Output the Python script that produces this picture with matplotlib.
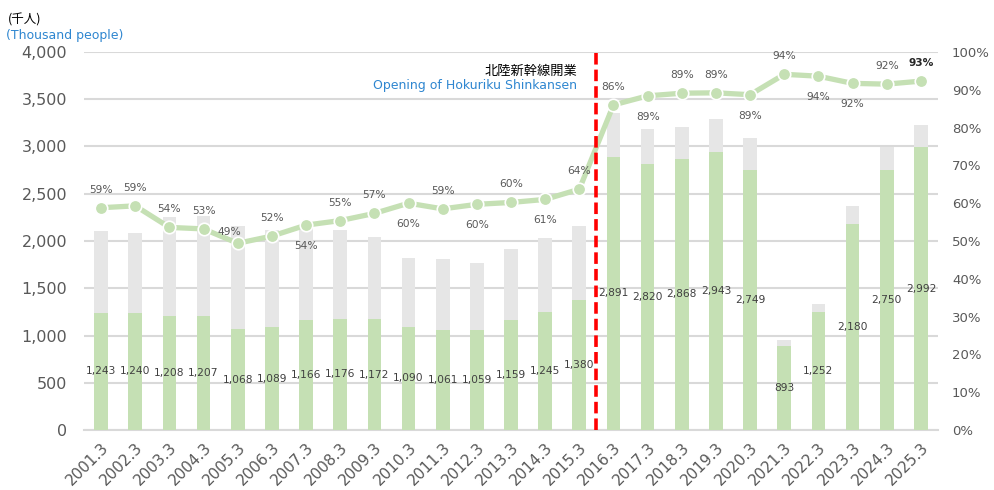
import matplotlib
matplotlib.use("Agg")
import matplotlib.pyplot as plt
from matplotlib.ticker import FuncFormatter, MultipleLocator

plt.rcParams['font.family'] = ['DejaVu Sans', 'Noto Sans CJK JP']

years = ["2001.3", "2002.3", "2003.3", "2004.3", "2005.3", "2006.3", "2007.3", "2008.3",
         "2009.3", "2010.3", "2011.3", "2012.3", "2013.3", "2014.3", "2015.3", "2016.3",
         "2017.3", "2018.3", "2019.3", "2020.3", "2021.3", "2022.3", "2023.3", "2024.3", "2025.3"]
# green bars (thousand people)
green = [1243, 1240, 1208, 1207, 1068, 1089, 1166, 1176, 1172, 1090, 1061, 1059, 1159,
         1245, 1380, 2891, 2820, 2868, 2943, 2749, 893, 1252, 2180, 2750, 2992]
# gray bars = total
total = [2105, 2085, 2250, 2265, 2160, 2120, 2150, 2120, 2040, 1820, 1810, 1770, 1920,
         2035, 2160, 3350, 3180, 3210, 3290, 3085, 950, 1335, 2375, 2995, 3230]
# share line (right axis)
share = [0.588, 0.593, 0.536, 0.532, 0.494, 0.513, 0.542, 0.554, 0.573, 0.600, 0.585,
         0.597, 0.602, 0.610, 0.637, 0.860, 0.884, 0.891, 0.892, 0.887, 0.941, 0.936,
         0.917, 0.915, 0.923]
share_labels = ["59%", "59%", "54%", "53%", "49%", "52%", "54%", "55%", "57%", "60%",
                "59%", "60%", "60%", "61%", "64%", "86%", "89%", "89%", "89%", "89%",
                "94%", "94%", "92%", "92%", "93%"]
# label placement: 1 above, -1 below
label_side = [1, 1, 1, 1, 1, 1, -1, 1, 1, -1, 1, -1, 1, -1, 1, 1, -1, 1, 1, -1,
              1, -1, -1, 1, 1]

GREEN = "#c5e0b4"
GRAY = "#e6e6e6"
GRID = "#d9d9d9"
TXT = "#595959"
BLUE = "#2e86d0"

fig = plt.figure(figsize=(9.94, 4.9), dpi=100)
ax = fig.add_axes([84 / 994, 1 - 430 / 490, (938 - 84) / 994, (430 - 52) / 490])
x = list(range(len(years)))

ax.bar(x, total, width=0.4, color=GRAY, zorder=2)
ax.bar(x, green, width=0.4, color=GREEN, zorder=3)
for i, v in enumerate(green):
    ax.text(i, v / 2, f"{v:,}", ha="center", va="center", fontsize=7.7,
            color="#404040", zorder=4)

ax.set_xlim(-0.5, len(years) - 0.5)
ax.set_ylim(0, 4000)
ax.yaxis.set_major_locator(MultipleLocator(500))
ax.yaxis.set_major_formatter(FuncFormatter(lambda v, p: f"{int(v):,}"))
ax.grid(axis="y", color=GRID, linewidth=1.5, zorder=0)
ax.set_axisbelow(True)
for s in ["top", "right", "left"]:
    ax.spines[s].set_visible(False)
ax.spines["bottom"].set_color(GRID)
ax.spines["bottom"].set_linewidth(1.5)
ax.tick_params(axis="y", length=0, pad=12, labelsize=11.5, labelcolor=TXT)
ax.tick_params(axis="x", length=0, pad=7, labelsize=11, labelcolor=TXT)
ax.set_xticks(x)
ax.set_xticklabels(years, rotation=45, ha="right", va="top", rotation_mode="anchor")

ax2 = ax.twinx()
ax2.set_ylim(0, 1)
ax2.yaxis.set_major_locator(MultipleLocator(0.1))
ax2.yaxis.set_major_formatter(FuncFormatter(lambda v, p: f"{v * 100:.0f}%"))
for s in ["top", "right", "left", "bottom"]:
    ax2.spines[s].set_visible(False)
ax2.tick_params(axis="y", length=0, pad=10, labelsize=9.5, labelcolor=TXT)

ax2.plot(x, share, color=GREEN, linewidth=3.8, marker="o", markersize=9,
         markerfacecolor=GREEN, markeredgecolor="white", markeredgewidth=1.2, zorder=3)
for i, (v, lab, side) in enumerate(zip(share, share_labels, label_side)):
    dx = -6 if i == 4 else 0
    dy = 13 if side > 0 else -15
    if i == 4:
        dy = 8
    last = i == len(share) - 1
    ax2.annotate(lab, (i, v), xytext=(dx, dy), textcoords="offset points",
                 ha="center", va="center", fontsize=7.7,
                 color="#262626" if last else TXT,
                 fontweight="bold" if last else "normal")

ax2.axvline(14.5, color="#ff0000", linewidth=2.6, linestyle=(0, (3.2, 1.4)), zorder=5)

fig.text(8 / 994, 1 - 20 / 490, "(千人)", fontsize=9, color="black", va="center",
         family=['Noto Sans CJK JP', 'DejaVu Sans'])
fig.text(6 / 994, 1 - 36 / 490, "(Thousand people)", fontsize=9, color=BLUE, va="center")
fig.text(577 / 994, 1 - 71 / 490, "北陸新幹線開業", fontsize=9.5, color="black",
         ha="right", va="center", family=['Noto Sans CJK JP', 'DejaVu Sans'])
fig.text(577 / 994, 1 - 86 / 490, "Opening of Hokuriku Shinkansen", fontsize=9,
         color=BLUE, ha="right", va="center")

fig.savefig("out.png", dpi=100)
